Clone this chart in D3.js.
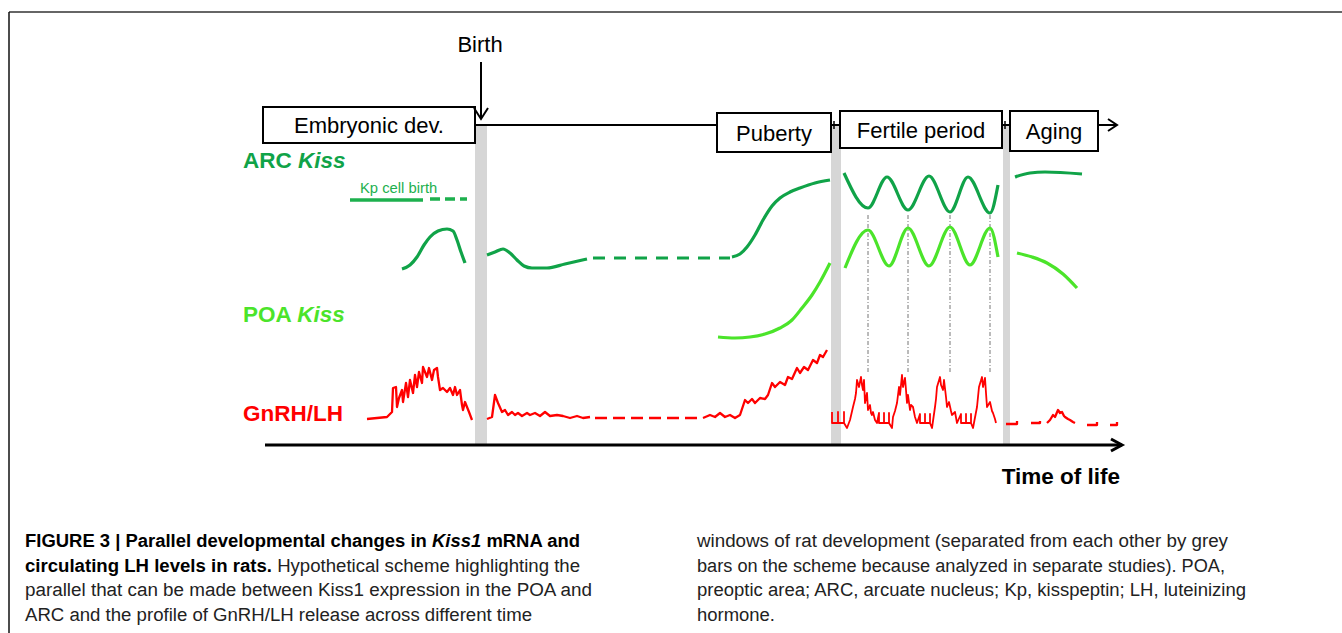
<!DOCTYPE html>
<html>
<head>
<meta charset="utf-8">
<script src="https://cdn.jsdelivr.net/npm/d3@7"></script>
<style>
  body { margin: 0; background: #fff; }
  svg { display: block; font-family: "Liberation Sans", Arial, sans-serif; }
</style>
</head>
<body>
<svg id="chart" width="1342" height="633"></svg>
<script>
'use strict';

// Time runs 0..860 (arbitrary units along the "time of life" axis).
// Each profile is a list of [time, level] pairs.

const phaseLabels = ['Embryonic dev.', 'Puberty', 'Fertile period', 'Aging'];
const phaseStart = [-2, 452, 575, 745];
const phaseEnd = [210, 566, 737, 833];

// grey bars between separate studies
const sepStart = [210, 566, 738];
const sepEnd = [222, 576, 745];
const birthTime = 216;

// ARC Kiss (dark green)
const kpBirthSolid = [[85, 70], [158, 70]];
const kpBirthDashed = [[165, 71], [202, 71]];
const arcEmbryonic = [[137, 1], [145, 5], [152, 13], [159, 25], [165, 33], [173, 39], [182, 41], [188, 39], [192, 30], [196, 18], [200, 7]];
const arcPostnatal = [[222, 15], [230, 18], [238, 21], [245, 17], [252, 10], [259, 4], [267, 2], [282, 2], [300, 6], [322, 11]];
const arcGap = [[328, 12], [465, 12]];
const arcPuberty = [[467, 13], [475, 16], [482, 23], [490, 35], [498, 50], [507, 64], [515, 72], [525, 78], [535, 82], [550, 87], [565, 90]];
const arcFertile = [[579, 97], [603, 62], [622, 93], [643, 60], [664, 94], [685, 58], [703, 93], [725, 57], [733, 85]];
const arcAging = [[750, 93], [765, 97], [780, 98], [817, 96]];

// POA Kiss (light green)
const poaPuberty = [[453, 3], [470, 2], [485, 3], [500, 6], [515, 12], [527, 20], [537, 32], [547, 45], [555, 58], [565, 77]];
const poaFertile = [[580, 72], [603, 110], [624, 74], [643, 112], [664, 74], [685, 113], [705, 75], [725, 112], [733, 83]];
const poaAging = [[752, 87], [767, 83], [782, 77], [798, 66], [812, 52]];

// times of the POA peaks / LH surges (dotted guides)
const surgeTimes = [603, 643, 685, 725];

// GnRH/LH (red)
const lhEmbryonic = [[102, 6], [122, 8], [127, 13], [128, 37], [131, 38], [132, 18], [134, 27], [137, 35], [138, 23], [141, 42], [143, 28],
  [145, 45], [148, 32], [150, 50], [152, 38], [154, 53], [157, 42], [158, 58], [162, 48], [164, 57], [167, 45], [169, 55], [172, 57],
  [173, 48], [175, 35], [178, 37], [182, 33], [185, 37], [188, 30], [190, 38], [192, 30], [195, 35], [197, 20], [198, 15], [200, 23],
  [202, 18], [204, 13], [207, 5]];
const lhPostnatal = [[222, 6], [227, 8], [230, 30], [233, 22], [237, 13], [240, 15], [243, 10], [247, 13], [250, 10], [253, 12], [257, 9],
  [262, 12], [265, 10], [270, 12], [275, 9], [280, 13], [285, 9], [292, 10], [298, 9], [305, 7], [312, 9], [318, 7], [325, 8]];
const lhGap = [[330, 7], [435, 7]];
const lhPuberty = [[438, 7], [445, 10], [450, 8], [455, 12], [460, 8], [465, 10], [470, 7], [475, 10], [480, 25], [483, 22], [487, 26],
  [490, 22], [495, 27], [500, 26], [503, 30], [507, 42], [510, 38], [515, 43], [520, 40], [523, 48], [527, 46], [532, 57], [535, 52],
  [539, 58], [543, 55], [548, 65], [552, 62], [555, 70], [558, 68], [562, 75]];
const lhFertile = [[567, 13], [567, 2], [573, 2], [573, 13], [573, 2], [579, 2], [579, 13], [579, 2],
  [582, -3], [585, 5], [588, 18], [590, 26], [591, 32], [592, 45], [594, 38], [596, 48], [597, 40], [598, 35], [599, 45], [600, 22],
  [602, 32], [603, 15], [605, 20], [606, 12], [607, 10], [608, 13], [610, 5], [612, 2],
  [614, 12], [614, 2], [619, 2], [619, 12], [619, 2], [624, 2], [624, 12], [624, 2],
  [627, -3], [628, 8], [630, 14], [632, 22], [634, 38], [635, 30], [637, 50], [638, 38], [640, 47], [641, 35], [642, 22], [643, 30],
  [645, 15], [646, 20], [648, 18], [650, 8], [652, 2],
  [655, 11], [655, 2], [660, 2], [660, 11], [660, 2], [665, 2], [665, 11], [665, 2],
  [667, -3], [670, 18], [671, 26], [672, 38], [675, 48], [676, 40], [678, 35], [679, 45], [681, 28], [682, 18], [684, 23], [686, 14],
  [687, 10], [690, 13], [692, 2],
  [696, 11], [696, 2], [701, 2], [701, 11], [701, 2], [706, 2], [706, 11], [706, 2],
  [708, -3], [712, 18], [713, 28], [714, 38], [717, 48], [718, 38], [720, 47], [721, 32], [722, 18], [725, 23], [727, 14], [728, 12],
  [730, 6], [731, 2]];
const lhAging = [
  [[741, 1], [752, 1], [752, 4]],
  [[766, 2], [775, 2], [775, 4]],
  [[782, 2], [785, 5], [788, 10], [790, 8], [793, 15], [795, 12], [797, 13], [799, 9], [800, 8], [803, 6], [805, 5], [808, 3], [810, 2]],
  [[822, 0], [832, 0], [832, 3]],
  [[845, 0], [852, 0], [852, 3]]
];

const captionLeft = [
  [['FIGURE 3 | Parallel developmental changes in ', 'b'], ['Kiss1', 'bi'], [' mRNA and', 'b']],
  [['circulating LH levels in rats.', 'b'], [' Hypothetical scheme highlighting the', 'r']],
  [['parallel that can be made between Kiss1 expression in the POA and', 'r']],
  [['ARC and the profile of GnRH/LH release across different time', 'r']]
];
const captionRight = [
  [['windows of rat development (separated from each other by grey', 'r']],
  [['bars on the scheme because analyzed in separate studies). POA,', 'r']],
  [['preoptic area; ARC, arcuate nucleus; Kp, kisspeptin; LH, luteinizing', 'r']],
  [['hormone.', 'r']]
];

// ---------------------------------------------------------------------------

const darkGreen = '#10a348';
const lightGreen = '#4be42a';
const red = '#ff0000';

const svg = d3.select('#chart');

const x = d3.scaleLinear().domain([0, 860]).range([265, 1125]);
const arcY = d3.scaleLinear().domain([0, 100]).range([270, 170]);
const poaY = d3.scaleLinear().domain([0, 100]).range([340, 240]);
const lhY = d3.scaleLinear().domain([0, 60]).range([425, 365]);

const axisY = 445;
const timelineY = 125;

// figure frame
svg.append('line').attr('x1', 9).attr('x2', 1342).attr('y1', 12).attr('y2', 12)
  .attr('stroke', '#666').attr('stroke-width', 2);
svg.append('line').attr('x1', 9).attr('x2', 9).attr('y1', 12).attr('y2', 633)
  .attr('stroke', '#111').attr('stroke-width', 1.5);

// grey separators
svg.append('g').selectAll('rect')
  .data(sepStart)
  .join('rect')
    .attr('x', (d, i) => x(d))
    .attr('width', (d, i) => x(sepEnd[i]) - x(d))
    .attr('y', timelineY)
    .attr('height', axisY - timelineY)
    .attr('fill', '#d6d6d6');

// time of life axis
const axisEnd = x(857);
svg.append('line').attr('x1', x(0)).attr('x2', axisEnd).attr('y1', axisY).attr('y2', axisY)
  .attr('stroke', '#000').attr('stroke-width', 3);
svg.append('polyline')
  .attr('points', [[axisEnd - 11, axisY - 6], [axisEnd, axisY], [axisEnd - 11, axisY + 6]])
  .attr('fill', 'none').attr('stroke', '#000').attr('stroke-width', 3);
svg.append('text').attr('x', 1120).attr('y', 484).attr('text-anchor', 'end')
  .attr('font-size', 22.5).attr('font-weight', 'bold').text('Time of life');

// top timeline with phase boxes
const tlEnd = x(852);
svg.append('line').attr('x1', x(210)).attr('x2', tlEnd).attr('y1', timelineY).attr('y2', timelineY)
  .attr('stroke', '#000').attr('stroke-width', 2);
svg.append('polyline')
  .attr('points', [[tlEnd - 9, timelineY - 6], [tlEnd, timelineY], [tlEnd - 9, timelineY + 6]])
  .attr('fill', 'none').attr('stroke', '#000').attr('stroke-width', 2);
[569, 740].forEach(t => {
  svg.append('line').attr('x1', x(t)).attr('x2', x(t)).attr('y1', timelineY - 4).attr('y2', timelineY + 4)
    .attr('stroke', '#000').attr('stroke-width', 1.5);
});

const boxTop = [107, 113, 111, 111];
const boxBottom = [143, 152, 148, 151];
const boxes = svg.append('g').selectAll('g')
  .data(phaseLabels)
  .join('g');
boxes.append('rect')
  .attr('x', (d, i) => x(phaseStart[i]))
  .attr('y', (d, i) => boxTop[i])
  .attr('width', (d, i) => x(phaseEnd[i]) - x(phaseStart[i]))
  .attr('height', (d, i) => boxBottom[i] - boxTop[i])
  .attr('fill', '#fff').attr('stroke', '#000').attr('stroke-width', 2);
boxes.append('text')
  .attr('x', (d, i) => (x(phaseStart[i]) + x(phaseEnd[i])) / 2)
  .attr('y', (d, i) => (boxTop[i] + boxBottom[i]) / 2 + 8)
  .attr('text-anchor', 'middle')
  .attr('font-size', 22)
  .text(d => d);

// birth arrow
const bx = x(birthTime);
svg.append('text').attr('x', bx - 1).attr('y', 52).attr('text-anchor', 'middle')
  .attr('font-size', 22).text('Birth');
svg.append('line').attr('x1', bx).attr('x2', bx).attr('y1', 62).attr('y2', 119)
  .attr('stroke', '#000').attr('stroke-width', 2);
svg.append('polyline')
  .attr('points', [[bx - 7, 108], [bx, 119], [bx + 7, 108]])
  .attr('fill', 'none').attr('stroke', '#000').attr('stroke-width', 2);

// track labels
function trackLabel(y, color, parts) {
  const t = svg.append('text').attr('x', 243).attr('y', y)
    .attr('font-size', 22.5).attr('font-weight', 'bold').attr('fill', color);
  parts.forEach(([s, it]) => t.append('tspan').attr('font-style', it ? 'italic' : 'normal').text(s));
}
trackLabel(168, darkGreen, [['ARC ', false], ['Kiss', true]]);
trackLabel(322, lightGreen, [['POA ', false], ['Kiss', true]]);
trackLabel(421, red, [['GnRH/LH', false]]);

svg.append('text').attr('x', 360).attr('y', 193).attr('font-size', 14.8)
  .attr('fill', '#1db04e').text('Kp cell birth');

// dotted guides from POA peaks down to LH surges
svg.append('g').selectAll('line')
  .data(surgeTimes)
  .join('line')
    .attr('x1', d => x(d)).attr('x2', d => x(d))
    .attr('y1', arcY(55)).attr('y2', lhY(52))
    .attr('stroke', '#777').attr('stroke-width', 1)
    .attr('stroke-dasharray', '4,2,1,2');

// profiles
function draw(data, yScale, color, opts = {}) {
  const line = d3.line()
    .x(d => x(d[0]))
    .y(d => yScale(d[1]))
    .curve(opts.curve || d3.curveMonotoneX);
  svg.append('path')
    .datum(data)
    .attr('d', line)
    .attr('fill', 'none')
    .attr('stroke', color)
    .attr('stroke-width', opts.width || 3.2)
    .attr('stroke-dasharray', opts.dash || null)
    .attr('stroke-linejoin', 'round');
}

draw(kpBirthSolid, arcY, '#1db04e', { width: 3.5 });
draw(kpBirthDashed, arcY, '#1db04e', { width: 3.5, dash: '10,5' });
[arcEmbryonic, arcPostnatal, arcPuberty, arcFertile, arcAging].forEach(d => draw(d, arcY, darkGreen));
draw(arcGap, arcY, darkGreen, { dash: '12,9' });

[poaPuberty, poaFertile, poaAging].forEach(d => draw(d, poaY, lightGreen));

const jag = { curve: d3.curveLinear, width: 2.3 };
[lhEmbryonic, lhPostnatal, lhPuberty].forEach(d => draw(d, lhY, red, jag));
draw(lhFertile, lhY, red, { curve: d3.curveLinear, width: 1.8 });
draw(lhGap, lhY, red, { curve: d3.curveLinear, width: 2.3, dash: '12,6' });
lhAging.forEach(d => draw(d, lhY, red, jag));

// caption
function caption(lines, x0, widths) {
  lines.forEach((parts, i) => {
    const t = svg.append('text').attr('x', x0).attr('y', 547 + i * 24.5)
      .attr('font-size', 18);
    parts.forEach(([s, st]) => {
      t.append('tspan')
        .attr('font-weight', st === 'r' ? 'normal' : 'bold')
        .attr('font-style', st === 'bi' ? 'italic' : 'normal')
        .attr('fill', st === 'r' ? '#222' : '#000')
        .text(s);
    });
    if (widths[i]) t.attr('textLength', widths[i]).attr('lengthAdjust', 'spacingAndGlyphs');
  });
}
caption(captionLeft, 25, [555, 555, 567, 507]);
caption(captionRight, 697, [531, 528, 549, 78]);
</script>
</body>
</html>
